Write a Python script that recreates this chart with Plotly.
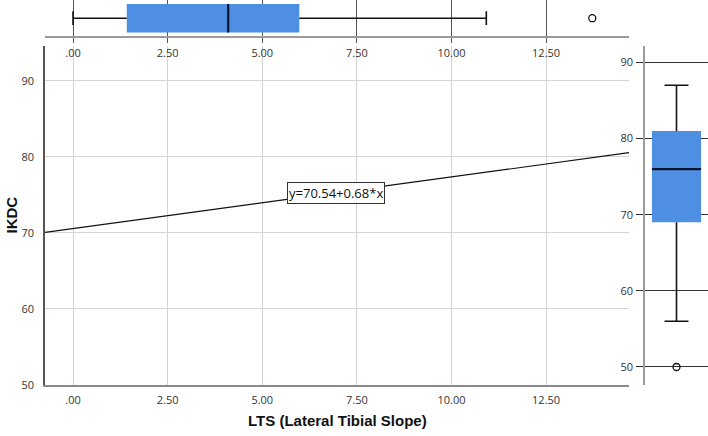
import plotly.graph_objects as go

# ---- data ----
x_ticks = [0, 2.5, 5, 7.5, 10, 12.5]
x_ticktext = [".00", "2.50", "5.00", "7.50", "10.00", "12.50"]
y_ticks = [50, 60, 70, 80, 90]
y_ticktext = ["50", "60", "70", "80", "90"]

# regression fit  IKDC = a + b * LTS
intercept = 70.54
slope = 0.68
fit_label = "y=70.54+0.68*x"
label_x = 6.95

# LTS box-plot statistics
lts_stats = dict(low=0.0, q1=1.42, med=4.10, q3=5.98, high=10.92)
lts_outliers = [13.72]

# IKDC box-plot statistics
ikdc_stats = dict(low=56.0, q1=69.0, med=76.0, q3=81.0, high=87.0)
ikdc_outliers = [50.0]

x_title = "LTS (Lateral Tibial Slope)"
y_title = "IKDC"

# ---- styling / layout constants ----
W, H = 708, 436
BOX_COLOR = "#4f8fe3"
TICK_FONT = dict(family="Open Sans, Arial, sans-serif", size=11, color="#333333")
TITLE_FONT = dict(family="Liberation Sans, Arial, sans-serif", size=15, color="#111111")

main_left, main_right = 45, 629
main_top, main_bottom = 47, 391
xr = [-0.74, 14.69]
yr_main = [50, 94.53]
yr_right = [47.67, 92.13]


def px_x(p):
    return p / W


def px_y(p):
    return 1 - p / H


def box_traces(stats, outliers, horizontal, xa, ya, center=0.5, half=0.392, cap=0.19):
    lo, q1, med, q3, hi = stats["low"], stats["q1"], stats["med"], stats["q3"], stats["high"]
    c0, c1 = center - half, center + half
    k0, k1 = center - cap, center + cap
    rv = [q1, q3, q3, q1, q1]
    rc = [c0, c0, c1, c1, c0]
    wv = [lo, q1, None, q3, hi, None, lo, lo, None, hi, hi]
    wc = [center, center, None, center, center, None, k0, k1, None, k0, k1]
    mv = [med, med]
    mc = [c0, c1]

    def xy(v, c):
        return (v, c) if horizontal else (c, v)

    out = []
    x, y = xy(rv, rc)
    out.append(go.Scatter(x=x, y=y, fill="toself", fillcolor=BOX_COLOR, mode="lines",
                          line=dict(width=0, color=BOX_COLOR), xaxis=xa, yaxis=ya, hoverinfo="skip"))
    x, y = xy(wv, wc)
    out.append(go.Scatter(x=x, y=y, mode="lines", line=dict(color="#111111", width=1.6),
                          xaxis=xa, yaxis=ya, hoverinfo="skip", connectgaps=False))
    x, y = xy(mv, mc)
    out.append(go.Scatter(x=x, y=y, mode="lines", line=dict(color="#0a1530", width=2.2),
                          xaxis=xa, yaxis=ya, hoverinfo="skip"))
    x, y = xy(outliers, [center] * len(outliers))
    out.append(go.Scatter(x=x, y=y, mode="markers",
                          marker=dict(symbol="circle-open", size=7, color="#111111", line=dict(width=1.3)),
                          xaxis=xa, yaxis=ya, hoverinfo="skip"))
    return out


fig = go.Figure()

fx = [xr[0], xr[1]]
fy = [intercept + slope * v for v in fx]
fig.add_trace(go.Scatter(x=fx, y=fy, mode="lines", line=dict(color="#111111", width=1.1),
                         xaxis="x", yaxis="y", hoverinfo="skip"))

for t in box_traces(lts_stats, lts_outliers, True, "x2", "y2"):
    fig.add_trace(t)
for t in box_traces(ikdc_stats, ikdc_outliers, False, "x3", "y3", center=0.5, half=0.39, cap=0.19):
    fig.add_trace(t)

fig.add_annotation(x=label_x, y=intercept + slope * label_x, xref="x", yref="y",
                   text=fit_label, showarrow=False,
                   font=dict(family="Open Sans, Arial, sans-serif", size=13, color="#111111"),
                   bgcolor="white", bordercolor="#333333", borderwidth=1, borderpad=1)

fig.add_annotation(x=(main_left + main_right) / 2 / W, y=px_y(427), xref="paper", yref="paper",
                   text="<b>%s</b>" % x_title, showarrow=False, font=TITLE_FONT,
                   xanchor="center", yanchor="middle")
fig.add_annotation(x=px_x(11), y=px_y(219), xref="paper", yref="paper",
                   text="<b>%s</b>" % y_title, showarrow=False, font=TITLE_FONT, textangle=-90,
                   xanchor="center", yanchor="middle")

fig.update_layout(
    width=W, height=H, autosize=False, margin=dict(l=0, r=0, t=0, b=0, pad=0),
    paper_bgcolor="white", plot_bgcolor="white", showlegend=False,
    xaxis=dict(domain=[px_x(main_left), px_x(main_right)], range=xr, anchor="y",
               tickvals=x_ticks, ticktext=x_ticktext, tickfont=TICK_FONT,
               showgrid=True, gridcolor="#d4d4d4", gridwidth=1, zeroline=False,
               showline=True, linecolor="#8a8a8a", linewidth=1.5, ticks="", ticklabelstandoff=4),
    yaxis=dict(domain=[px_y(main_bottom), px_y(main_top)], range=yr_main, anchor="x",
               tickvals=y_ticks, ticktext=y_ticktext, tickfont=TICK_FONT,
               showgrid=True, gridcolor="#d4d4d4", gridwidth=1, zeroline=False,
               showline=True, linecolor="#555555", linewidth=1.5, ticks="", ticklabelstandoff=7),
    xaxis2=dict(domain=[px_x(main_left), px_x(main_right)], range=xr, anchor="y2",
                tickvals=x_ticks, ticktext=x_ticktext, tickfont=TICK_FONT,
                showgrid=True, gridcolor="#555555", gridwidth=1, zeroline=False,
                showline=True, linecolor="#9a9a9a", linewidth=1.5,
                ticks="outside", ticklen=5, tickcolor="#555555", ticklabelstandoff=1),
    yaxis2=dict(domain=[px_y(37), 1], range=[0, 1], anchor="x2", visible=False),
    xaxis3=dict(domain=[px_x(645), 1], range=[0, 1], anchor="y3", visible=False),
    yaxis3=dict(domain=[px_y(main_bottom), px_y(main_top)], range=yr_right, anchor="x3",
                tickvals=y_ticks, ticktext=y_ticktext, tickfont=TICK_FONT,
                showgrid=True, gridcolor="#333333", gridwidth=1, zeroline=False,
                showline=True, linecolor="#9a9a9a", linewidth=1.5,
                ticks="outside", ticklen=7, tickcolor="#333333", ticklabelstandoff=1),
)

fig.write_html(
    "out.html",
    config={"displayModeBar": False, "responsive": False},
    post_script="document.body.style.margin='0';document.body.style.overflow='hidden';",
)
